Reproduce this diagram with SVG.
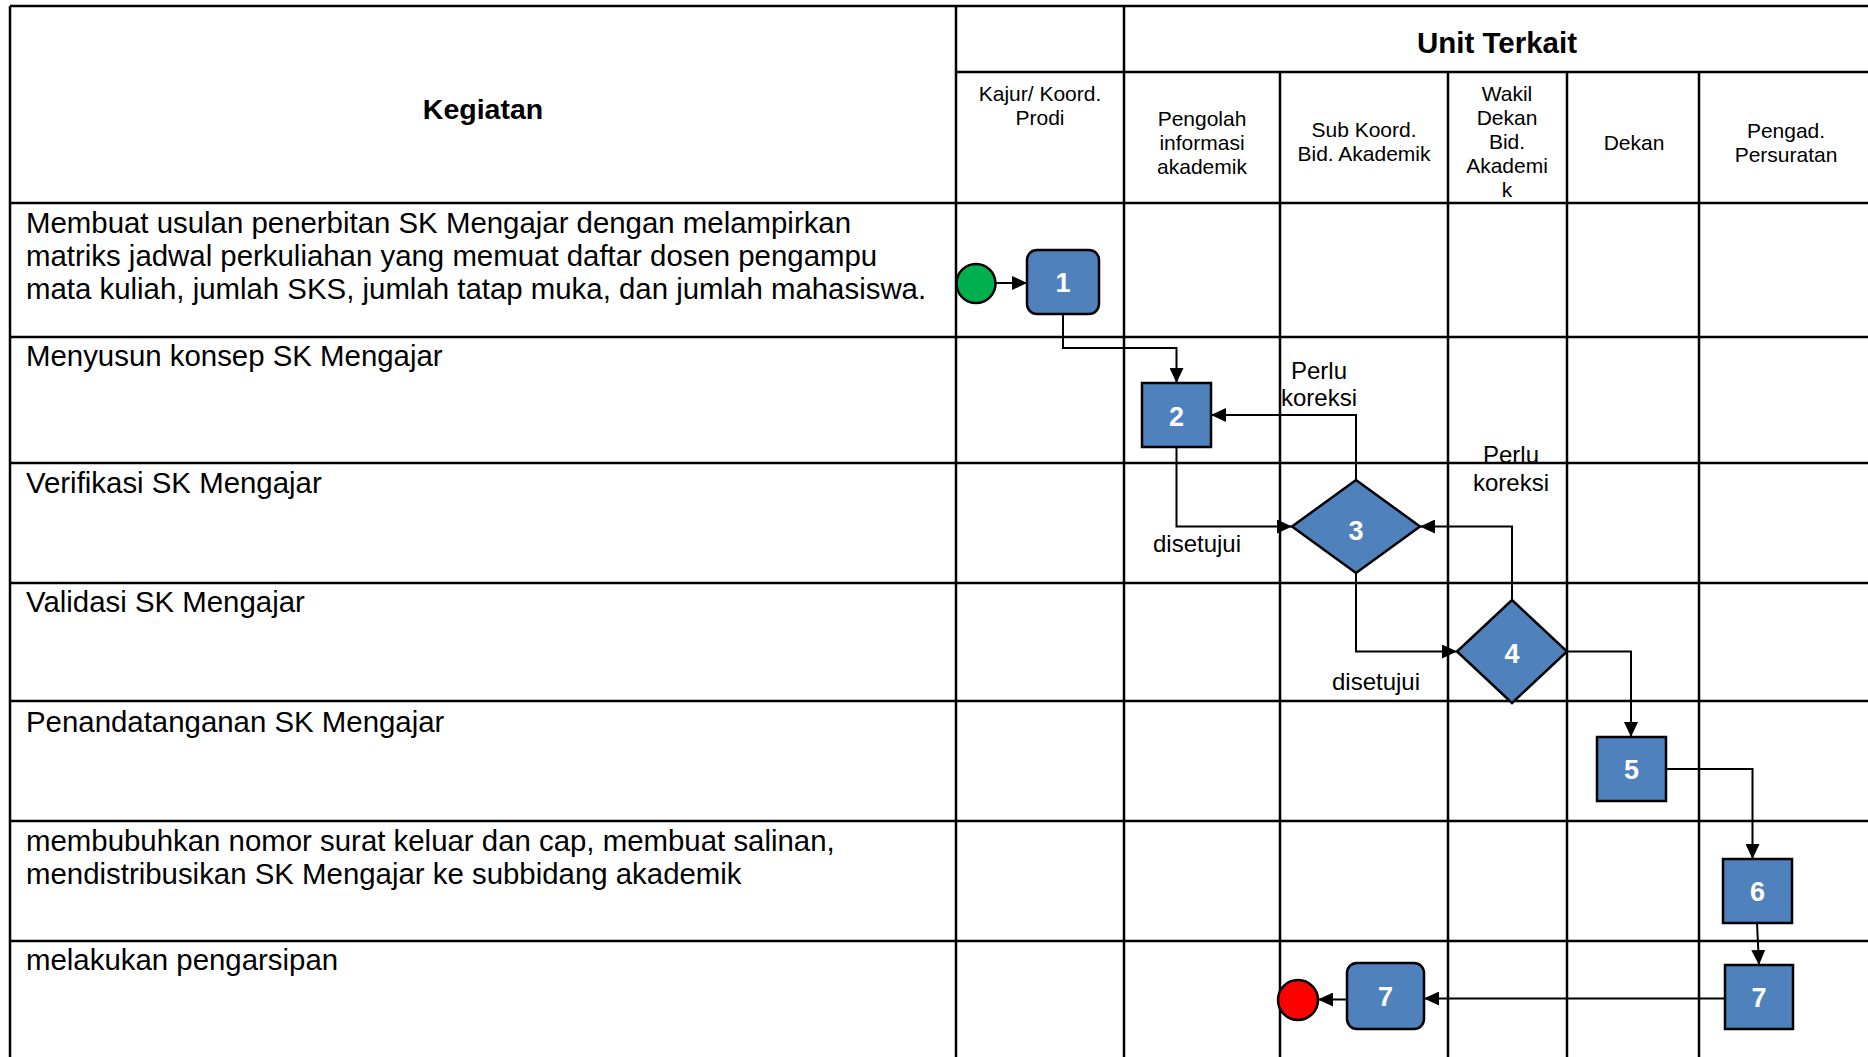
<svg xmlns="http://www.w3.org/2000/svg" width="1868" height="1057" viewBox="0 0 1868 1057">
<style>
.grid{stroke:#000;stroke-width:2.5;fill:none}
.hd{font-family:"Liberation Sans",Arial,sans-serif;font-size:21px;fill:#000;text-anchor:middle}
.title{font-family:"Liberation Sans",Arial,sans-serif;font-weight:bold;fill:#000;text-anchor:middle}
.act{font-family:"Liberation Sans",Arial,sans-serif;font-size:29.4px;fill:#000}
.lbl{font-family:"Liberation Sans",Arial,sans-serif;font-size:24px;fill:#000;text-anchor:middle}
.box{fill:#4F81BD;stroke:#000;stroke-width:2.5}
.num{font-family:"Liberation Sans",Arial,sans-serif;font-size:27px;font-weight:bold;fill:#fff;text-anchor:middle}
.con{stroke:#000;stroke-width:2;fill:none;marker-end:url(#arr)}
</style>
<defs>
<marker id="arr" markerWidth="15" markerHeight="14" refX="15" refY="7" orient="auto" markerUnits="userSpaceOnUse">
<path d="M0,0 L15,7 L0,14 Z" fill="#000"/>
</marker>
</defs>
<rect width="1868" height="1057" fill="#fff"/>
<g id="table">
<path class="grid" d="M10,6 H1868 M10,6 V1057 M956,6 V1057 M1124,6 V1057 M1280,72 V1057 M1448,72 V1057 M1567,72 V1057 M1699,72 V1057 M956,72 H1868 M10,203 H1868 M10,337 H1868 M10,463 H1868 M10,583 H1868 M10,701 H1868 M10,821 H1868 M10,941 H1868"/>
<text class="title" x="483" y="119" font-size="28.5">Kegiatan</text>
<text class="title" x="1497" y="53" font-size="29.5">Unit Terkait</text>
<text class="hd" x="1040" y="101">Kajur/ Koord.</text>
<text class="hd" x="1040" y="125">Prodi</text>
<text class="hd" x="1202" y="126">Pengolah</text>
<text class="hd" x="1202" y="150">informasi</text>
<text class="hd" x="1202" y="174">akademik</text>
<text class="hd" x="1364" y="137">Sub Koord.</text>
<text class="hd" x="1364" y="161">Bid. Akademik</text>
<text class="hd" x="1507" y="101">Wakil</text>
<text class="hd" x="1507" y="125">Dekan</text>
<text class="hd" x="1507" y="149">Bid.</text>
<text class="hd" x="1507" y="173">Akademi</text>
<text class="hd" x="1507" y="197">k</text>
<text class="hd" x="1634" y="150">Dekan</text>
<text class="hd" x="1786" y="138">Pengad.</text>
<text class="hd" x="1786" y="162">Persuratan</text>
<text class="act" x="26" y="233">Membuat usulan penerbitan SK Mengajar dengan melampirkan</text>
<text class="act" x="26" y="266">matriks jadwal perkuliahan yang memuat daftar dosen pengampu</text>
<text class="act" x="26" y="299">mata kuliah, jumlah SKS, jumlah tatap muka, dan jumlah mahasiswa.</text>
<text class="act" x="26" y="366">Menyusun konsep SK Mengajar</text>
<text class="act" x="26" y="493">Verifikasi SK Mengajar</text>
<text class="act" x="26" y="612">Validasi SK Mengajar</text>
<text class="act" x="26" y="732">Penandatanganan SK Mengajar</text>
<text class="act" x="26" y="851">membubuhkan nomor surat keluar dan cap, membuat salinan,</text>
<text class="act" x="26" y="884">mendistribusikan SK Mengajar ke subbidang akademik</text>
<text class="act" x="26" y="970">melakukan pengarsipan</text>
</g>
<g id="connectors">
<path class="con" d="M996,283 H1027"/>
<path class="con" d="M1063,314 V348 H1176.5 V383"/>
<path class="con" d="M1176.5,447 V526.5 H1292"/>
<path class="con" d="M1356,480 V415 H1211"/>
<path class="con" d="M1356,573 V651.5 H1457"/>
<path class="con" d="M1512,600 V526.5 H1420"/>
<path class="con" d="M1567,651.5 H1631 V737"/>
<path class="con" d="M1666,769 H1752.5 V859"/>
<path class="con" d="M1757,923 L1759,965"/>
<path class="con" d="M1725,998.5 H1424"/>
<path class="con" d="M1347,999.5 H1318"/>
<text class="lbl" x="1319" y="379">Perlu</text>
<text class="lbl" x="1319" y="406">koreksi</text>
<text class="lbl" x="1511" y="463">Perlu</text>
<text class="lbl" x="1511" y="491">koreksi</text>
<text class="lbl" x="1197" y="552">disetujui</text>
<text class="lbl" x="1376" y="690">disetujui</text>
</g>
<g id="start"><circle cx="976" cy="283.5" r="19.5" fill="#00B050" stroke="#000" stroke-width="2.5"/></g>
<g id="n1"><rect class="box" x="1027" y="250" width="72" height="64" rx="10"/><text class="num" x="1063" y="292">1</text></g>
<g id="n2"><rect class="box" x="1142" y="383" width="69" height="64"/><text class="num" x="1176.5" y="426">2</text></g>
<g id="n3"><polygon class="box" points="1356,480 1420,526.5 1356,573 1292,526.5"/><text class="num" x="1356" y="540">3</text></g>
<g id="n4"><polygon class="box" points="1512,600 1567,651.5 1512,703 1457,651.5"/><text class="num" x="1512" y="663">4</text></g>
<g id="n5"><rect class="box" x="1597" y="737" width="69" height="64"/><text class="num" x="1631.5" y="779">5</text></g>
<g id="n6"><rect class="box" x="1723" y="859" width="69" height="64"/><text class="num" x="1757.5" y="901">6</text></g>
<g id="n7b"><rect class="box" x="1725" y="965" width="68" height="64"/><text class="num" x="1759" y="1007">7</text></g>
<g id="n7a"><rect class="box" x="1347" y="963" width="77" height="66" rx="10"/><text class="num" x="1385.5" y="1006">7</text></g>
<g id="end"><circle cx="1298" cy="1000" r="20" fill="#FF0000" stroke="#000" stroke-width="2.5"/></g>
</svg>
